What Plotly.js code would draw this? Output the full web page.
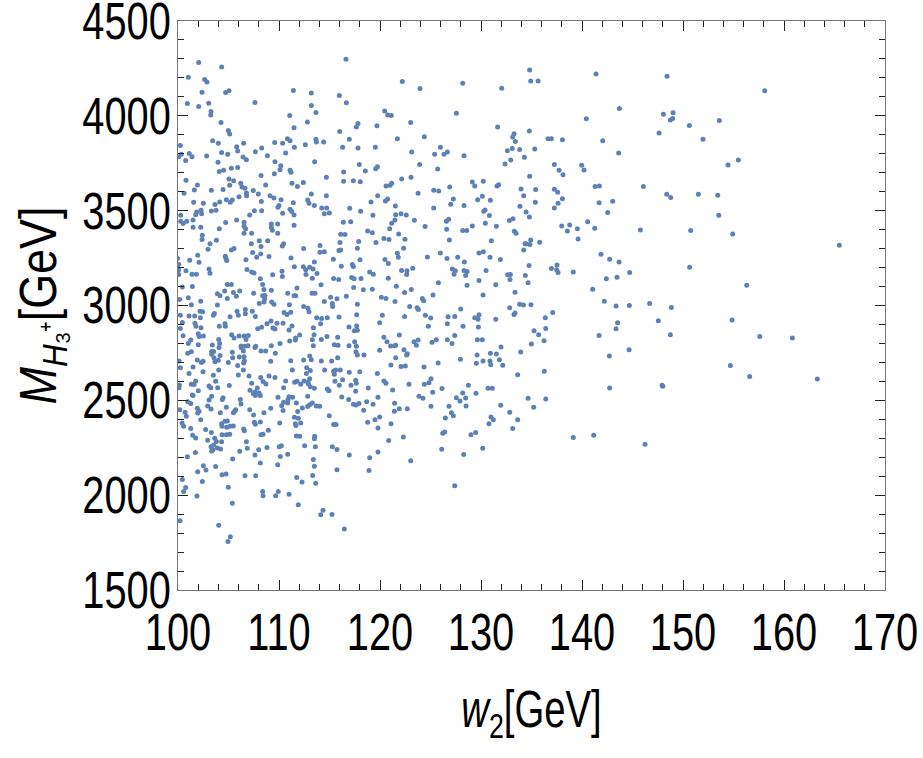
<!DOCTYPE html>
<html>
<head>
<meta charset="utf-8">
<script src="https://cdn.plot.ly/plotly-3.0.1.min.js"></script>
<style>
html,body{margin:0;padding:0;background:#fff;}
#chart{width:923px;height:758px;}
</style>
</head>
<body>
<div id="chart"></div>
<script>
// w2 [GeV]
const w2 = [
102.05,104.32,116.63,101.02,102.64,102.87,102.38,104.72,105.05,111.42,113.2,115.97,122.21,100.93,102.05,103.04,107.62,116.67,113.2,103.27,
103.24,113.66,111.06,120.46,120.76,121.12,104.26,117.82,117.66,112.81,111.49,119.7,123.04,104.98,105.12,116.01,100.23,103.43,103.99,106.5,
109.57,110.36,110.83,111.09,111.52,112.61,113.66,113.7,114.42,116.96,121.72,116.3,117.82,119.54,105.81,105.91,108.28,107.66,100.33,100.05,
101.12,101.39,100.76,102.84,104.32,104.92,106.44,106.77,108.85,110.66,113.53,123.14,103.96,105.28,105.91,104.09,104.52,109.6,110.17,110.1,
111.09,111.19,109.54,108.22,117.95,119.74,119.57,118.55,116.4,114.69,100.79,101.92,105.05,105.12,105.51,106.21,106.34,106.63,108.68,111.29,
111.82,112.41,116.4,117.36,118.05,120.6,121.0,121.16,122.15,123.07,100.6,101.62,103.3,104.46,106.77,106.8,107.46,107.95,106.04,109.11,
109.5,110.2,113.2,114.69,119.77,120.76,120.53,101.55,102.51,103.66,104.13,104.79,105.18,105.38,108.25,110.0,109.9,111.42,112.84,112.97,
113.5,114.23,114.72,117.0,119.11,121.52,
134.82,134.92,135.65,141.39,123.96,128.19,132.05,143.7,127.56,140.43,131.65,124.39,133.27,133.14,133.4,134.79,136.64,136.97,138.06,142.05,
125.98,125.41,126.34,126.67,128.32,132.61,133.1,133.83,135.32,134.29,132.94,132.38,143.63,123.93,125.71,137.26,137.73,138.12,139.97,140.2,
134.82,129.14,129.38,130.23,126.9,125.32,125.81,123.77,131.59,131.75,133.96,134.23,135.41,137.26,137.59,141.29,141.72,146.08,127.26,130.13,
129.67,130.93,127.0,128.32,125.32,133.86,135.38,137.63,138.06,137.26,141.69,143.04,
148.42,158.09,148.06,149.01,148.75,148.98,153.6,150.63,147.63,151.98,154.46,155.48,148.39,148.78,151.52,153.44,
100.27,101.75,101.85,102.28,102.34,103.3,103.76,107.1,107.56,108.28,110.36,111.09,111.26,111.49,114.49,114.98,118.08,119.3,121.55,122.08,
100.27,100.5,100.86,101.49,101.49,102.25,104.09,104.72,105.81,106.54,106.54,106.7,109.24,109.24,109.34,109.87,111.49,116.37,117.1,121.15,
121.48,122.6,102.41,102.38,103.17,102.97,103.8,106.54,107.29,108.05,108.88,107.26,108.22,109.87,110.46,110.33,116.11,116.53,116.04,117.89,
118.78,119.24,119.6,120.39,120.96,120.89,121.85,122.47,105.28,105.55,107.39,108.19,109.01,107.79,104.69,104.75,104.82,106.73,101.95,102.08,
101.16,99.97,100.07,111.19,112.44,113.5,114.06,114.06,114.49,115.38,115.94,116.11,117.76,118.02,120.49,120.82,121.72,121.81,122.34,100.07,
100.07,100.79,101.39,101.82,103.07,103.17,106.83,107.29,107.53,108.15,108.38,108.51,108.38,108.61,108.58,108.51,109.37,110.3,110.33,111.52,
112.41,113.04,113.37,112.64,112.67,113.3,113.76,114.16,115.41,115.91,116.17,117.26,117.36,117.19,117.43,118.98,119.34,118.12,120.82,122.14,
122.67,122.64,121.62,123.1,100.43,101.42,100.17,101.02,101.32,102.25,104.16,103.9,104.62,104.88,105.28,104.88,105.48,105.78,106.11,103.9,
107.49,108.05,109.24,109.27,109.5,110.86,111.49,111.65,111.78,111.03,112.44,113.27,113.57,114.49,115.11,115.28,115.31,115.74,116.67,117.39,
118.35,119.24,117.76,120.13,120.59,121.48,122.44,100.23,101.09,101.65,102.18,102.44,102.21,103.6,103.5,105.15,105.84,105.97,106.67,106.67,
107.36,107.66,108.81,109.21,109.8,110.4,110.5,110.79,111.16,112.87,112.97,113.73,114.12,114.22,114.78,115.94,117.69,116.93,117.69,117.76,
117.46,119.97,120.23,122.44,104.09,104.65,104.69,100.43,100.23,101.68,101.78,102.28,100.5,101.02,101.26,102.01,102.11,102.51,102.01,104.03,
103.4,103.33,103.53,104.13,105.31,105.55,106.04,106.54,106.73,106.96,106.24,106.6,106.93,107.89,108.28,107.69,109.4,109.6,110.1,110.99,
111.29,111.62,111.06,112.05,111.65,109.24,113.4,113.47,113.3,113.4,114.19,114.75,115.48,115.84,115.81,117.49,117.66,116.93,119.97,120.39,
120.69,121.05,121.45,121.55,121.91,122.37,122.7,100.1,100.23,101.32,100.96,101.91,102.48,103.33,103.56,103.66,103.99,104.06,104.16,104.98,
105.38,105.41,106.07,105.91,106.27,106.47,106.54,106.57,106.5,107.62,108.22,108.68,109.18,109.64,111.16,112.44,113.04,113.2,114.19,115.21,
115.81,117.62,117.76,118.41,121.55,122.08,122.51,121.08,122.64,101.09,101.49,102.31,102.48,103.5,104.03,103.73,103.07,103.24,103.93,101.75,
101.32,101.59,100.13,100.1,102.01,101.42,105.08,105.97,106.47,107.03,107.29,107.13,107.46,107.62,108.02,108.19,108.42,107.85,108.71,109.01,
109.6,110.46,110.66,111.32,111.55,111.78,112.15,112.48,112.71,112.74,113.1,113.04,112.87,112.9,113.1,113.5,114.52,115.41,115.48,115.54,
115.61,116.07,114.78,114.95,115.97,116.3,116.96,117.13,117.59,117.66,117.59,118.0,118.84,119.74,120.39,120.59,121.25,122.87,
130.27,130.4,130.83,134.46,134.79,142.54,123.4,124.46,126.57,126.8,126.6,128.19,128.58,129.14,130.43,131.52,132.81,133.17,133.3,133.47,
131.03,126.87,134.36,134.46,134.85,134.92,134.23,135.81,137.99,138.78,138.55,139.54,139.61,140.56,141.26,145.78,123.24,124.69,125.98,126.64,
127.69,128.35,127.16,127.46,127.33,128.32,128.62,128.48,129.8,130.23,130.89,131.92,130.5,129.8,125.78,128.62,131.46,132.64,132.91,132.87,
134.39,134.76,134.66,136.97,137.53,137.49,137.63,139.14,141.88,142.74,143.67,142.41,143.47,144.72,141.06,142.21,143.37,144.69,143.53,143.37,
141.69,142.71,144.66,142.74,124.19,124.33,125.25,122.94,123.67,123.8,124.49,125.02,124.79,126.74,127.4,126.67,127.99,128.22,129.38,129.71,
129.8,129.74,131.46,130.2,132.84,133.37,133.83,134.2,134.95,133.27,133.37,136.37,137.1,127.4,126.67,127.13,125.58,125.15,123.37,123.77,
123.6,129.64,130.13,129.61,129.54,130.2,130.93,131.52,130.89,130.96,131.82,132.15,131.98,127.96,125.75,124.36,135.25,135.71,134.99,136.24,
136.41,133.93,133.63,136.27,125.05,124.85,124.39,125.22,126.14,128.75,128.19,129.51,130.7,131.12,
153.54,150.76,154.92,165.48,150.66,156.31,146.7,148.85,147.56,154.86,148.75,157.6,160.83,154.69,156.6,163.3,147.93,148.0,
101.49,103.33,104.46,104.39,107.66,108.15,109.9,110.89,110.99,111.35,112.84,116.21,119.8,100.17,100.7,100.83,100.96,101.26,101.91,102.08,
101.95,102.94,103.07,103.27,104.19,104.79,105.61,105.71,105.48,106.17,106.24,107.1,107.49,108.51,109.18,110.26,110.46,110.4,110.86,111.72,
111.85,111.52,111.91,112.31,112.84,113.04,113.3,113.7,114.03,114.98,115.41,115.64,116.9,117.36,117.62,117.92,118.38,118.68,119.31,118.78,
119.5,119.97,119.8,121.45,121.42,121.91,122.7,121.09,100.4,100.56,101.26,101.45,101.75,102.25,102.74,102.94,103.3,103.27,103.33,103.63,
103.8,103.9,103.53,103.46,104.32,104.36,104.65,104.88,104.82,105.15,104.79,105.12,104.36,105.48,104.32,104.22,106.11,106.5,106.57,106.77,
106.86,107.56,107.66,108.15,108.22,108.42,108.94,107.99,108.81,107.62,108.15,110.07,110.03,110.23,110.13,109.87,110.86,111.62,111.68,112.15,
111.72,112.05,112.54,113.53,113.5,113.6,113.4,113.5,113.33,113.63,115.28,115.74,115.74,116.96,118.98,118.91,119.8,120.86,122.31,123.04,
100.93,101.72,102.51,102.77,103.73,101.95,102.41,100.43,100.56,100.76,101.88,100.2,104.36,104.75,104.98,105.38,105.41,106.63,107.69,108.38,
108.42,109.67,109.93,110.99,111.75,112.28,111.91,104.03,105.18,104.95,114.13,114.36,115.25,116.47,
123.86,124.26,125.05,127.56,127.92,128.48,126.83,127.07,127.26,126.47,128.52,126.21,126.41,126.11,128.29,127.4,129.01,129.47,130.17,130.79,
130.99,131.22,131.95,132.84,133.14,133.63,134.66,135.22,136.41,139.14,141.16,146.24
];
// M_{H3+} [GeV]
const mH3 = [
4281,4258,4298,4204,4191,4179,4125,4123,4132,4134,4120,4107,4181,4065,4049,4067,4070,4069,4055,4023,
4004,4018,4002,4025,4005,4002,3965,3960,3941,3967,3937,3948,3965,3923,3904,3918,3844,3869,3856,3855,
3860,3855,3879,3869,3834,3848,3877,3862,3862,3876,3879,3834,3830,3834,3837,3814,3830,3811,3797,3784,
3802,3784,3765,3788,3807,3797,3783,3769,3790,3804,3758,3809,3755,3723,3728,3707,3713,3758,3737,3716,
3713,3702,3695,3685,3744,3732,3721,3709,3704,3676,3660,3635,3667,3634,3658,3644,3625,3618,3635,3644,
3628,3649,3655,3658,3653,3630,3634,3644,3667,3676,3592,3609,3607,3612,3593,3579,3606,3588,3574,3579,
3567,3557,3588,3578,3578,3562,3551,3544,3539,3532,3546,3558,3544,3556,3548,3527,3518,3542,3556,3539,
3527,3514,3514,3513,3546,3525,
4242,4183,4183,4221,4144,4172,4146,4039,4013,3985,3941,3890,3906,3888,3865,3920,3879,3879,3874,3869,
3834,3797,3797,3809,3790,3816,3828,3823,3825,3781,3767,3746,3804,3744,3720,3744,3713,3690,3739,3714,
3681,3651,3630,3655,3625,3607,3604,3592,3630,3637,3614,3578,3611,3613,3597,3628,3630,3628,3562,3576,
3557,3555,3534,3527,3514,3523,3544,3539,3563,3514,3542,3549,
4209,4132,4009,4016,3978,3986,3976,3949,3909,3876,3741,3767,3586,3569,3586,3581,
3476,3479,3493,3502,3484,3498,3502,3477,3500,3500,3486,3507,3495,3477,3484,3488,3497,3476,3479,3484,
3444,3432,3444,3451,3412,3412,3405,3437,3451,3439,3418,3404,3430,3412,3397,3430,3423,3439,3441,3433,
3451,3477,3370,3348,3325,3297,3344,3381,3381,3342,3342,3325,3311,3381,3325,3314,3376,3374,3332,3337,
3393,3384,3332,3353,3404,3348,3377,3349,3292,3300,3279,3272,3258,3255,3260,3248,3237,3241,3265,3228,
3239,3248,3216,3251,3300,3230,3316,3281,3283,3244,3290,3293,3302,3241,3242,3221,3276,3255,3302,3188,
3163,3183,3165,3165,3193,3170,3190,3176,3172,3141,3111,3085,3051,3053,3035,3018,3162,3181,3153,3204,
3204,3202,3193,3188,3163,3144,3169,3109,3142,3137,3207,3216,3206,3148,3141,3176,3165,3142,3144,3184,
3183,3163,3102,3085,3097,3100,3032,3041,3004,3023,3051,3062,3077,3111,3111,3037,3069,3049,3076,3002,
3065,3011,3081,3018,3006,3064,3051,3051,3092,3004,2995,3064,3064,3021,3044,3011,2995,3035,3049,3095,
3083,3086,3006,3044,3037,3021,3069,2949,2944,2944,2970,2967,2935,2958,2949,2941,2970,2948,2979,2956,
2970,2942,2904,2918,2906,2907,2963,2953,2965,2985,2967,2935,2904,2932,2935,2939,2951,2886,2892,2869,
2867,2909,2948,2942,2890,2904,2890,2911,2879,2907,2891,2883,2841,2799,2818,2851,2837,2839,2793,2821,
2792,2758,2758,2800,2846,2828,2839,2839,2821,2842,2786,2785,2788,2878,2885,2785,2881,2876,2799,2871,
2892,2818,2813,2844,2828,2788,2883,2846,2820,2788,2821,2837,2793,2790,2832,2809,2785,2788,2764,2832,
2809,2786,2788,2790,2844,2767,2746,2707,2672,2756,2748,2713,2706,2743,2725,2704,2711,2779,2737,2699,
2753,2725,2728,2683,2777,2760,2730,2707,2697,2779,2760,2760,2706,2748,2709,2713,2734,2714,2707,2707,
2725,2756,2739,2739,2725,2678,2681,2686,2739,2641,2676,2700,2651,2632,2660,2600,2576,2567,2567,2602,
2585,2583,2581,2567,2551,2528,2578,2634,2660,2628,2590,2553,2535,2544,2539,2620,2599,2565,2586,2628,
2620,2567,2602,2660,2595,2600,2585,2602,2642,2672,2657,2614,2597,2588,2572,2564,2660,2653,2637,2600,
2660,2660,2560,2550,2579,2609,2648,2579,2606,2590,2548,2651,2565,2642,2602,2590,2555,2585,
3497,3504,3474,3493,3467,3490,3449,3416,3444,3455,3402,3395,3395,3419,3433,3418,3448,3458,3391,3381,
3341,3346,3325,3325,3321,3346,3293,3334,3419,3425,3393,3405,3351,3441,3407,3398,3197,3256,3277,3248,
3255,3230,3193,3183,3165,3184,3179,3158,3277,3284,3255,3242,3184,3132,3120,3107,3109,3162,3163,3137,
3158,3211,3120,3195,3213,3188,3174,3177,3270,3244,3230,3141,3149,3174,3086,3023,2997,3000,2909,2877,
2842,2734,2767,2565,3037,3025,3056,2995,2988,2979,2949,2934,2891,2941,2942,2904,2981,2891,2935,2928,
2951,2886,2928,3056,2988,3070,3007,3002,3004,2953,2960,2935,2963,2842,2820,2799,2820,2806,2809,2818,
2790,2820,2820,2739,2695,2707,2748,2744,2707,2688,2714,2685,2781,2716,2697,2676,2867,2846,2797,2814,
2879,2755,2635,2653,2614,2593,2585,2542,2562,2579,2539,2537,2564,2564,
3476,3395,3377,3318,3202,3107,3011,2990,2920,2923,2846,2837,2828,2683,2625,2613,2579,2574,
2525,2521,2514,2505,2525,2525,2516,2504,2519,2516,2521,2518,2516,2451,2437,2416,2493,2483,2458,2442,
2433,2470,2502,2454,2435,2463,2442,2451,2435,2504,2481,2451,2423,2435,2458,2472,2490,2446,2486,2486,
2441,2411,2405,2460,2467,2477,2486,2470,2469,2419,2372,2372,2504,2479,2476,2483,2448,2493,2479,2384,
2397,2412,2354,2484,2442,2455,2455,2377,2381,2363,2351,2316,2302,2397,2346,2290,2330,2255,2233,2300,
2283,2249,2265,2239,2377,2363,2390,2391,2358,2363,2319,2321,2319,2365,2281,2244,2232,2349,2339,2281,
2247,2384,2374,2386,2318,2321,2342,2239,2251,2212,2170,2381,2255,2261,2204,2160,2216,2377,2367,2381,
2312,2311,2261,2311,2297,2255,2188,2153,2104,2063,2255,2241,2134,2212,2197,2130,2228,2288,2307,2181,
2202,2225,2155,2133,2151,2123,2072,2083,2019,2041,1995,1865,2107,2111,2042,1958,2191,2102,2102,2019,
1997,1997,2019,2005,2093,2069,1949,1841,1781,1756,1897,1921,1898,1821,
2521,2511,2469,2514,2497,2512,2469,2435,2419,2407,2470,2326,2333,2242,2214,2049,2319,2330,2248,2376,
2412,2398,2474,2437,2351,2397,2511,2463,2507,2304,2316,2269
];

const xTicks = [100,110,120,130,140,150,160,170];
const yTicks = [1500,2000,2500,3000,3500,4000,4500];
const xRange = [100, 170];
const yRange = [1500, 4500];

const FONT = '"Liberation Sans", Arial, sans-serif';
const SQUEEZE = 0.78;   // the reference uses a narrow face

const trace = {
  type: 'scatter',
  mode: 'markers',
  x: w2,
  y: mH3,
  marker: {color: 'rgb(94,129,181)', size: 5, line: {width: 0}},
  cliponaxis: true,
  hoverinfo: 'x+y'
};
// empty trace so that the top / right frame axes are drawn
const frameTrace = {type: 'scatter', mode: 'markers', x: [], y: [], xaxis: 'x2', yaxis: 'y2', hoverinfo: 'skip'};

const tickStyle = {
  showgrid: false, zeroline: false, showline: true,
  linecolor: '#777', linewidth: 1,
  ticks: 'inside', ticklen: 10, tickwidth: 1, tickcolor: '#222'
};
const font = {family: FONT, size: 51, color: '#000'};

const layout = {
  width: 923,
  height: 758,
  margin: {l: 178, r: 38, t: 21, b: 168},
  paper_bgcolor: '#fff',
  plot_bgcolor: '#fff',
  showlegend: false,
  xaxis: Object.assign({}, tickStyle, {
    range: xRange, tickmode: 'array', tickvals: xTicks, ticktext: xTicks.map(String),
    minor: {dtick: 2, tick0: 100, ticks: 'inside', ticklen: 6, tickcolor: '#222', tickwidth: 1},
    tickfont: font, ticklabeloverflow: 'allow', ticklabelstandoff: 10,
    title: {text: '<i>w</i><sub>2</sub>[GeV]', font: font, standoff: 40}
  }),
  yaxis: Object.assign({}, tickStyle, {
    range: yRange, tickmode: 'array', tickvals: yTicks, ticktext: yTicks.map(String),
    minor: {dtick: 100, tick0: 1500, ticks: 'inside', ticklen: 6, tickcolor: '#222', tickwidth: 1},
    tickfont: font, ticklabeloverflow: 'allow', ticklabelstandoff: 6,
    title: {text: '<i>M</i><sub><i>H</i>₃⁺</sub>[GeV]', font: font, standoff: 14}
  }),
  xaxis2: Object.assign({}, tickStyle, {
    overlaying: 'x', side: 'top', anchor: 'y2', range: xRange, tickvals: xTicks, tickmode: 'array',
    showticklabels: false,
    minor: {dtick: 2, tick0: 100, ticks: 'inside', ticklen: 6, tickcolor: '#222', tickwidth: 1}
  }),
  yaxis2: Object.assign({}, tickStyle, {
    overlaying: 'y', side: 'right', anchor: 'x2', range: yRange, tickvals: yTicks, tickmode: 'array',
    showticklabels: false,
    minor: {dtick: 100, tick0: 1500, ticks: 'inside', ticklen: 6, tickcolor: '#222', tickwidth: 1}
  })
};

function squeeze(el, s, dx, dy) {
  const x = parseFloat(el.getAttribute('x')) || 0;
  const y = parseFloat(el.getAttribute('y')) || 0;
  const t = el.getAttribute('transform') || '';
  el.setAttribute('transform',
    `translate(${dx},${dy}) ${t} translate(${x},${y}) scale(${s},1) translate(${-x},${-y})`);
}

Plotly.newPlot('chart', [trace, frameTrace], layout, {displayModeBar: false, staticPlot: true}).then(gd => {
  gd.querySelectorAll('.xaxislayer-above .xtick text').forEach(el => squeeze(el, SQUEEZE, 0, -12));
  gd.querySelectorAll('.yaxislayer-above .ytick text').forEach(el => squeeze(el, SQUEEZE, 10, 0));
  const xt = gd.querySelector('.g-xtitle text');
  if (xt) squeeze(xt, 0.75, 0, -12);
  const yt = gd.querySelector('.g-ytitle text');
  if (yt) squeeze(yt, 0.88, 10, 0);
});
</script>
</body>
</html>
